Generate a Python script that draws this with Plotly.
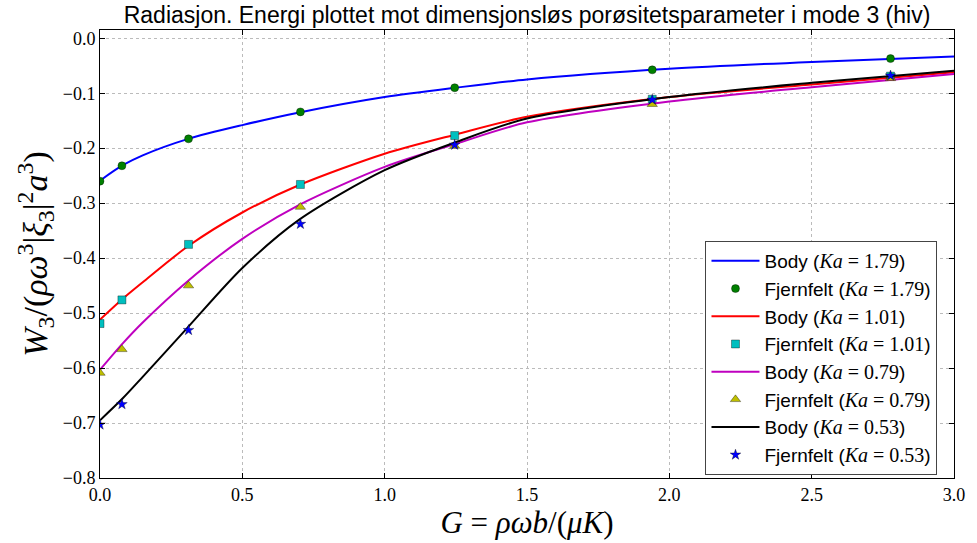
import plotly.graph_objects as go

# ---- data ----
ka_labels = ["1.79", "1.01", "0.79", "0.53"]

body_x = [0.0, 0.08, 0.15, 0.31, 0.5, 0.7, 1.0, 1.25, 1.5, 2.0, 2.5, 3.0]
body_179 = [-0.259, -0.231, -0.213, -0.183, -0.158, -0.135, -0.107, -0.090, -0.075, -0.0556, -0.043, -0.033]
body_101 = [-0.512, -0.474, -0.444, -0.378, -0.317, -0.267, -0.210, -0.175, -0.143, -0.107, -0.084, -0.062]
body_079 = [-0.603, -0.555, -0.517, -0.441, -0.365, -0.303, -0.234, -0.192, -0.153, -0.115, -0.089, -0.065]
body_053 = [-0.695, -0.655, -0.616, -0.525, -0.418, -0.330, -0.240, -0.189, -0.146, -0.107, -0.081, -0.059]

far_x = [0.0, 0.077, 0.311, 0.704, 1.246, 1.94, 2.777]
far_179 = [-0.260, -0.232, -0.183, -0.134, -0.090, -0.0575, -0.037]
far_101 = [-0.519, -0.476, -0.375, -0.266, -0.177, -0.111, -0.069]
far_079 = [-0.609, -0.566, -0.450, -0.307, -0.196, -0.120, -0.073]
far_053 = [-0.703, -0.666, -0.531, -0.338, -0.194, -0.112, -0.068]

x_ticks = [0.0, 0.5, 1.0, 1.5, 2.0, 2.5, 3.0]
y_ticks = [0.0, -0.1, -0.2, -0.3, -0.4, -0.5, -0.6, -0.7, -0.8]

title_text = "Radiasjon. Energi plottet mot dimensjonsløs porøsitetsparameter i mode 3 (hiv)"

# ---- styles ----
SERIF = "Liberation Serif"
SANS = "Liberation Sans"
line_colors = ["#0000ff", "#ff0000", "#bf00bf", "#000000"]
marker_colors = ["#008000", "#00bfbf", "#bfbf00", "#0000ff"]
marker_symbols = ["circle", "square", "triangle-up", "star"]
marker_sizes = [8, 8, 9, 8]

bodies = [body_179, body_101, body_079, body_053]
fars = [far_179, far_101, far_079, far_053]


def lab(kind, ka):
    return (f'{kind} (<span style="font-family:{SERIF};font-size:20px"><i>Ka</i> = {ka}</span>)')


fig = go.Figure()
for i in range(4):
    fig.add_trace(go.Scatter(
        x=body_x, y=bodies[i], mode="lines",
        line=dict(color=line_colors[i], width=2, shape="spline", smoothing=0.8),
        name=lab("Body", ka_labels[i])))
    fig.add_trace(go.Scatter(
        x=far_x, y=fars[i], mode="markers",
        marker=dict(color=marker_colors[i], symbol=marker_symbols[i], size=marker_sizes[i],
                    line=dict(color="rgba(0,0,0,0.6)", width=0.6)),
        name=lab("Fjernfelt", ka_labels[i])))

axis_common = dict(
    showline=True, linecolor="black", linewidth=1, mirror="ticks",
    ticks="inside", ticklen=5, tickcolor="black",
    showgrid=True, gridcolor="#bbbbbb", gridwidth=1, griddash="dot",
    zeroline=False,
    tickfont=dict(family=SERIF, size=18, color="black"),
    tickformat=".1f",
)

fig.update_layout(
    width=977, height=543,
    margin=dict(l=100, r=15, t=30, b=61),
    paper_bgcolor="white", plot_bgcolor="white",
    title=dict(text=title_text, x=0.5, xref="paper", y=1 - 15 / 543, yref="container",
               yanchor="middle", xanchor="center",
               font=dict(family=SANS, size=23, color="black")),
    xaxis=dict(range=[0, 3], tickvals=x_ticks,
               title=dict(text="<i>G</i> = <i>ρωb</i>/(<i>μK</i>)",
                          font=dict(family=SERIF, size=31, color="black"), standoff=5),
               **axis_common),
    yaxis=dict(range=[-0.8, 0.015], tickvals=y_ticks,
               title=dict(text="<i>W</i><sub>3</sub>/(<i>ρω</i><sup>3</sup>|<i>ξ</i><sub>3</sub>|<sup>2</sup><i>a</i><sup>3</sup>)",
                          font=dict(family=SERIF, size=34, color="black"), standoff=4),
               **axis_common),
    legend=dict(x=0.709, y=0.529, xanchor="left", yanchor="top",
                bgcolor="white", bordercolor="#444444", borderwidth=1,
                font=dict(family=SANS, size=19, color="black"),
                itemwidth=48, tracegroupgap=0),
    showlegend=True,
)

fig.write_html("out.html")
